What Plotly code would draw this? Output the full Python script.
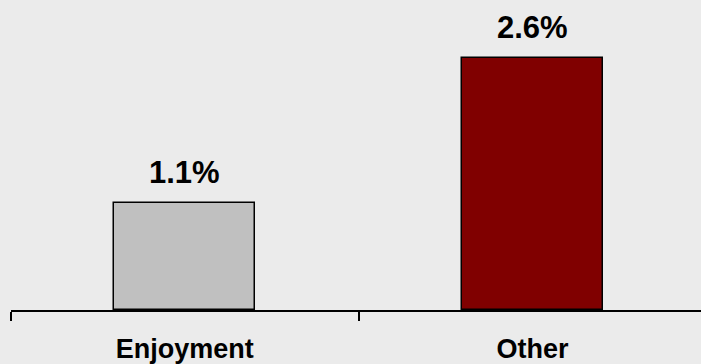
import plotly.graph_objects as go

categories = ["Enjoyment", "Other"]
values = [1.1, 2.6]
labels = ["1.1%", "2.6%"]
bar_colors = ["#C0C0C0", "#800000"]

BG = "#EBEBEB"
FONT = "Liberation Sans, Arial, sans-serif"

fig = go.Figure()
fig.add_trace(go.Bar(
    x=categories,
    y=values,
    width=0.405,
    marker=dict(color=bar_colors, line=dict(color="#000000", width=1.5)),
    hoverinfo="skip",
))

for cat, val, lab in zip(categories, values, labels):
    fig.add_annotation(
        x=cat, y=val, text=f"<b>{lab}</b>", showarrow=False,
        yanchor="bottom", yshift=11,
        font=dict(family=FONT, size=31, color="#000000"),
    )

fig.update_layout(
    width=701, height=364,
    margin=dict(l=11, r=0, t=0, b=54),
    paper_bgcolor=BG, plot_bgcolor=BG,
    showlegend=False,
    bargap=0,
)
fig.update_xaxes(
    type="category",
    range=[-0.5, 1.485],
    tickson="boundaries",
    ticks="outside", ticklen=9, tickwidth=2, tickcolor="#000000",
    showline=True, linecolor="#000000", linewidth=2,
    showgrid=False, zeroline=False,
    tickfont=dict(family=FONT, size=27, color="#000000"),
    ticklabelstandoff=14,
    tickprefix="<b>", ticksuffix="</b>",
)
fig.update_yaxes(
    range=[0, 3.2],
    showgrid=False, zeroline=False, showticklabels=False, showline=False,
)

fig.write_html("out.html")
